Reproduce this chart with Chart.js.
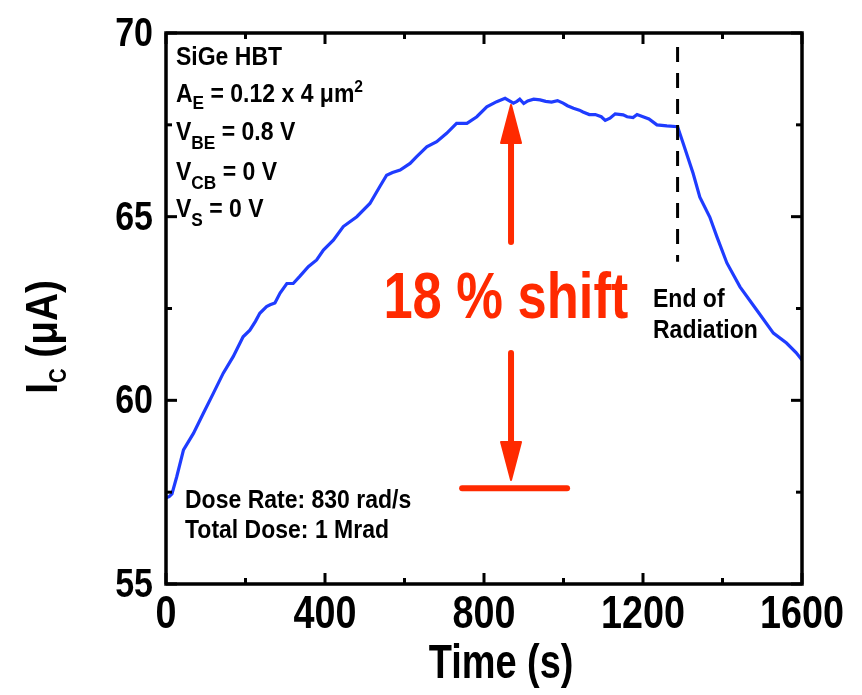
<!DOCTYPE html>
<html>
<head>
<meta charset="utf-8">
<script src="https://cdn.jsdelivr.net/npm/chart.js@4.4.1/dist/chart.umd.min.js"></script>
<style>
  html, body { margin: 0; padding: 0; background: #fff; }
  #wrap { width: 862px; height: 695px; }
</style>
</head>
<body>
<div id="wrap"><canvas id="c" width="862" height="695"></canvas></div>
<script>
// Collector current of the SiGe HBT during and after irradiation
const timeS = [
  0, 8, 15, 27, 44, 69, 94, 119, 144, 169, 194, 211, 225, 236, 253, 262, 274, 287, 304, 320,
  337, 358, 379, 396, 421, 446, 480, 513, 538, 555, 570, 589, 614, 630, 656, 681, 706, 731, 757, 782,
  807, 832, 853, 874, 883, 890, 900, 910, 925, 941, 955, 970, 985, 999, 1010, 1025, 1040, 1049, 1065, 1080,
  1095, 1105, 1117, 1130, 1150, 1160, 1175, 1185, 1200, 1215, 1235, 1260, 1287,
  1301, 1326, 1343, 1368, 1386, 1411, 1444, 1486, 1528, 1561, 1585, 1600
];
const currentUA = [
  57.35, 57.38, 57.45, 57.92, 58.65, 59.10, 59.65, 60.19, 60.74, 61.19, 61.73, 61.91, 62.15, 62.37, 62.55, 62.60, 62.65, 62.92, 63.18, 63.18,
  63.38, 63.64, 63.82, 64.09, 64.36, 64.73, 65.00, 65.36, 65.82, 66.13, 66.20, 66.27, 66.45, 66.63, 66.90, 67.04, 67.27, 67.54, 67.54, 67.72,
  67.99, 68.13, 68.22, 68.09, 68.14, 68.20, 68.08, 68.15, 68.20, 68.18, 68.14, 68.12, 68.16, 68.09, 68.02, 67.95, 67.90, 67.85, 67.78, 67.78,
  67.72, 67.62, 67.68, 67.80, 67.77, 67.72, 67.70, 67.78, 67.72, 67.66, 67.50, 67.47, 67.45,
  67.00, 66.18, 65.53, 64.99, 64.45, 63.74, 63.09, 62.46, 61.83, 61.56, 61.30, 61.10
];

// Axis ticks
const xMajorTicks = [0, 400, 800, 1200, 1600];
const xMinorTicks = [200, 600, 1000, 1400];
const yMajorTicks = [55, 60, 65, 70];
const yMinorTicks = [57.5, 62.5, 67.5];

// Annotation anchors (data units)
const radiationEndS = 1287;
const shiftArrowS = 868;
const shiftTopUA = 68.04;
const shiftBottomUA = 57.83;
const baselineUA = 57.61;
const baselineFromS = 745;
const baselineToS = 1009;

const FAMILY = '"Liberation Sans", Arial, Helvetica, sans-serif';
const BLUE = '#1f3cff';
const RED = '#ff2a00';

function font(size) { return 'bold ' + size + 'px ' + FAMILY; }

// Draws a run of text pieces (some sub- or superscripted), squeezed horizontally by sx
function drawRich(ctx, x, y, parts, size, opts) {
  opts = opts || {};
  const sx = opts.sx || 1;
  const pieces = parts.map(p => {
    const s = p.size ? p.size : p.sub ? size * 0.75 : p.sup ? size * 0.68 : size;
    ctx.font = font(s);
    return { t: p.t, s, w: ctx.measureText(p.t).width,
             dy: p.dy !== undefined ? p.dy : p.sub ? size * 0.36 : p.sup ? -size * 0.4 : 0 };
  });
  const total = pieces.reduce((a, p) => a + p.w, 0);
  let cx = opts.align === 'center' ? -total / 2 : opts.align === 'right' ? -total : 0;
  ctx.save();
  ctx.translate(x, y);
  ctx.scale(sx, 1);
  ctx.textAlign = 'left';
  ctx.textBaseline = 'alphabetic';
  for (const p of pieces) {
    ctx.font = font(p.s);
    ctx.fillText(p.t, cx, p.dy);
    cx += p.w;
  }
  ctx.restore();
}

const framePlugin = {
  id: 'frame',
  afterDatasetsDraw(chart) {
    const { ctx, chartArea: a, scales: { x, y } } = chart;
    ctx.save();
    ctx.strokeStyle = '#000';
    ctx.fillStyle = '#000';
    ctx.lineCap = 'butt';

    // tick labels from the scales' own ticks
    x.ticks.forEach((t, i) => {
      drawRich(ctx, x.getPixelForTick(i), a.bottom + 44, [{ t: String(t.value) }], 46, { sx: 0.82, align: 'center' });
    });
    y.ticks.forEach((t, i) => {
      drawRich(ctx, a.left - 13, y.getPixelForTick(i) + 13, [{ t: String(t.value) }], 40, { sx: 0.85, align: 'right' });
    });

    // inward tick marks on all four sides
    ctx.lineWidth = 3;
    const tickX = (v, len) => {
      const px = x.getPixelForValue(v);
      ctx.beginPath(); ctx.moveTo(px, a.bottom); ctx.lineTo(px, a.bottom - len); ctx.stroke();
      ctx.beginPath(); ctx.moveTo(px, a.top); ctx.lineTo(px, a.top + len); ctx.stroke();
    };
    const tickY = (v, len) => {
      const py = y.getPixelForValue(v);
      ctx.beginPath(); ctx.moveTo(a.left, py); ctx.lineTo(a.left + len, py); ctx.stroke();
      ctx.beginPath(); ctx.moveTo(a.right, py); ctx.lineTo(a.right - len, py); ctx.stroke();
    };
    xMajorTicks.forEach(v => tickX(v, 11));
    xMinorTicks.forEach(v => tickX(v, 6));
    yMajorTicks.forEach(v => tickY(v, 11));
    yMinorTicks.forEach(v => tickY(v, 6));
    ctx.lineWidth = 3.5;
    ctx.strokeRect(a.left, a.top, a.right - a.left, a.bottom - a.top);

    // end-of-radiation marker
    const ex = x.getPixelForValue(radiationEndS);
    ctx.lineWidth = 3;
    ctx.setLineDash([15, 11]);
    ctx.beginPath(); ctx.moveTo(ex, a.top + 14); ctx.lineTo(ex, y.getPixelForValue(63.77)); ctx.stroke();
    ctx.setLineDash([]);

    // 18 % shift arrows
    const sx = x.getPixelForValue(shiftArrowS);
    const topTip = y.getPixelForValue(shiftTopUA);
    const botTip = y.getPixelForValue(shiftBottomUA);
    ctx.strokeStyle = RED; ctx.fillStyle = RED;
    ctx.lineWidth = 6; ctx.lineCap = 'round'; ctx.lineJoin = 'round';
    const headLen = 38, headHalf = 10;
    ctx.beginPath(); ctx.moveTo(sx, topTip + headLen); ctx.lineTo(sx, y.getPixelForValue(64.31)); ctx.stroke();
    ctx.beginPath(); ctx.moveTo(sx, y.getPixelForValue(61.29)); ctx.lineTo(sx, botTip - headLen); ctx.stroke();
    ctx.lineWidth = 2;
    ctx.beginPath();
    ctx.moveTo(sx, topTip); ctx.lineTo(sx - headHalf, topTip + headLen); ctx.lineTo(sx + headHalf, topTip + headLen); ctx.closePath();
    ctx.fill(); ctx.stroke();
    ctx.beginPath();
    ctx.moveTo(sx, botTip); ctx.lineTo(sx - headHalf, botTip - headLen); ctx.lineTo(sx + headHalf, botTip - headLen); ctx.closePath();
    ctx.fill(); ctx.stroke();
    ctx.lineWidth = 6;
    const by = y.getPixelForValue(baselineUA);
    ctx.beginPath(); ctx.moveTo(x.getPixelForValue(baselineFromS), by); ctx.lineTo(x.getPixelForValue(baselineToS), by); ctx.stroke();

    drawRich(ctx, x.getPixelForValue(855), y.getPixelForValue(62.24), [{ t: '18 % shift' }], 64, { sx: 0.82, align: 'center' });

    // text inside the plot
    ctx.fillStyle = '#000';
    const tx = a.left + 10;
    const fs = 25, n = { sx: 0.92 };
    drawRich(ctx, tx, 65, [{ t: 'SiGe HBT' }], fs, n);
    drawRich(ctx, tx, 102, [{ t: 'A' }, { t: 'E', sub: true, dy: 7 }, { t: ' = 0.12 x 4 ' }, { t: 'μm' }, { t: '2', sup: true }], fs, n);
    drawRich(ctx, tx, 140, [{ t: 'V' }, { t: 'BE', sub: true, dy: 9 }, { t: ' = 0.8 V' }], fs, n);
    drawRich(ctx, tx, 180, [{ t: 'V' }, { t: 'CB', sub: true, dy: 9 }, { t: ' = 0 V' }], fs, n);
    drawRich(ctx, tx, 217, [{ t: 'V' }, { t: 'S', sub: true, dy: 9 }, { t: ' = 0 V' }], fs, n);
    drawRich(ctx, a.left + 19, 508, [{ t: 'Dose Rate: 830 rad/s' }], fs, n);
    drawRich(ctx, a.left + 19, 538, [{ t: 'Total Dose: 1 Mrad' }], fs, n);
    drawRich(ctx, 653, 307, [{ t: 'End of' }], fs, n);
    drawRich(ctx, 653, 338, [{ t: 'Radiation' }], fs, n);

    // axis titles
    drawRich(ctx, 501, 678, [{ t: 'Time (s)' }], 48, { sx: 0.79, align: 'center' });
    ctx.save();
    ctx.translate(57, 337);
    ctx.rotate(-Math.PI / 2);
    drawRich(ctx, 0, 0, [{ t: 'I' }, { t: 'C', size: 23, dy: 9 }, { t: ' (μA)' }], 44, { sx: 0.88, align: 'center' });
    ctx.restore();
    ctx.restore();
  }
};

const points = timeS.map((t, i) => ({ x: t, y: currentUA[i] }));

new Chart(document.getElementById('c'), {
  type: 'line',
  data: {
    datasets: [{
      data: points,
      borderColor: BLUE,
      borderWidth: 3.2,
      pointRadius: 0,
      tension: 0,
      fill: false
    }]
  },
  options: {
    responsive: false,
    animation: false,
    devicePixelRatio: 1,
    layout: { padding: { top: 33, right: 60, left: 0, bottom: 0 } },
    plugins: { legend: { display: false }, tooltip: { enabled: false } },
    scales: {
      x: {
        type: 'linear', min: 0, max: 1600,
        afterBuildTicks: s => { s.ticks = xMajorTicks.map(v => ({ value: v })); },
        grid: { display: false, drawTicks: false },
        border: { display: false },
        ticks: { display: false },
        afterFit: s => { s.height = 111; }
      },
      y: {
        type: 'linear', min: 55, max: 70,
        afterBuildTicks: s => { s.ticks = yMajorTicks.map(v => ({ value: v })); },
        grid: { display: false, drawTicks: false },
        border: { display: false },
        ticks: { display: false },
        afterFit: s => { s.width = 166; }
      }
    }
  },
  plugins: [framePlugin]
});
</script>
</body>
</html>
